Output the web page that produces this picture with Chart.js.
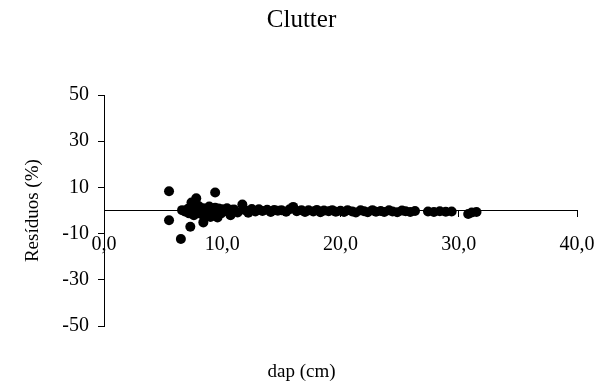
<!DOCTYPE html>
<html>
<head>
<meta charset="utf-8">
<script src="https://cdn.jsdelivr.net/npm/chart.js@4/dist/chart.umd.min.js"></script>
<style>
  html, body { margin: 0; padding: 0; background: #fff; }
  #wrap { width: 603px; height: 385px; }
</style>
</head>
<body>
<div id="wrap"><canvas id="c" width="603" height="385"></canvas></div>
<script>
// Diâmetro à altura do peito (cm) de cada árvore
const dap = [
  5.5, 5.5, 6.5, 7.3, 7.8, 7.4, 8.4, 9.4,
  6.6, 6.9, 7.1, 7.2, 7.5, 7.6, 7.7, 7.9, 8.0, 8.1, 8.2, 8.4, 8.5, 8.6, 8.8, 8.9,
  9.0, 9.1, 9.3, 9.4, 9.5, 9.6, 9.7, 9.9, 10.0, 10.2, 10.4, 10.6, 10.7, 10.8,
  11.0, 11.3, 11.7, 11.9, 12.2, 12.5, 12.8, 13.1, 13.4, 13.8, 14.1, 14.4, 14.7,
  15.0, 15.4, 15.7, 16.0, 16.3, 16.7, 17.0, 17.3, 17.7, 18.0, 18.3, 18.6, 19.0,
  19.3, 19.6, 20.0, 20.3, 20.6, 21.0, 21.3, 21.7, 22.0, 22.3, 22.7, 23.0, 23.4,
  23.7, 24.1, 24.4, 24.8, 25.2, 25.5, 25.9, 26.3,
  27.4, 27.9, 28.4, 28.9, 29.4,
  30.8, 31.1, 31.5
];

// Resíduos percentuais do modelo de Clutter
const residuos = [
  8.4, -4.2, -12.3, -7.0, 5.3, 3.5, -5.1, 7.8,
  0.2, -0.5, 0.8, -1.2, 0.4, -2.0, 1.5, -0.8, 2.0, 0.3, -1.5, 1.0, -2.5, 0.5, -1.0, 1.8,
  -2.8, 0.2, -1.8, 1.2, -0.6, -3.0, 0.9, -1.2, 0.6, -0.3, 1.0, -0.8, -2.0, 0.4,
  0.5, -0.8, 2.6, 0.3, -0.9, 0.7, -0.4, 0.6, -0.2, 0.4, -0.6, 0.3, -0.1,
  0.2, -0.5, 0.6, 1.6, -0.3, 0.2, -0.6, 0.1, -0.4, 0.3, -0.7, 0.0, -0.3,
  0.2, -0.5, -0.1, -0.6, 0.2, -0.4, -0.8, 0.1, -0.3, -0.7, 0.2, -0.5, -0.2,
  -0.6, 0.1, -0.4, -0.7, 0.0, -0.3, -0.6, -0.2,
  -0.4, -0.6, -0.3, -0.5, -0.4,
  -1.5, -0.8, -0.6
];

const xTicks = [0, 10, 20, 30, 40];
const yTicks = [-50, -30, -10, 10, 30, 50];

const points = dap.map((d, i) => ({ x: d, y: residuos[i] }));

const serif = 'Liberation Serif, Times New Roman, serif';
const tickFont = { family: serif, size: 20, weight: 'normal' };
const axisFont = { family: serif, size: 19, weight: 'normal' };

new Chart(document.getElementById('c'), {
  type: 'scatter',
  data: {
    datasets: [{
      data: points,
      backgroundColor: '#000',
      borderColor: '#000',
      borderWidth: 0,
      pointRadius: 5,
      pointHoverRadius: 5
    }]
  },
  options: {
    responsive: false,
    animation: false,
    events: [],
    layout: { padding: 0 },
    plugins: {
      legend: { display: false },
      tooltip: { enabled: false },
      title: {
        display: true,
        text: 'Clutter',
        color: '#000',
        font: { family: serif, size: 25, weight: 'normal' },
        padding: { top: 5, bottom: 60 }
      },
      subtitle: {
        display: true,
        position: 'bottom',
        text: 'dap (cm)',
        color: '#000',
        font: axisFont,
        padding: { top: 34, bottom: 2 }
      }
    },
    scales: {
      x: {
        type: 'linear',
        min: 0,
        max: 40,
        position: { y: 0 },
        afterBuildTicks: s => { s.ticks = xTicks.map(v => ({ value: v })); },
        // labels may overhang the plot edges without shrinking it
        afterFit: s => { s.paddingLeft = 0; s.paddingRight = 0; },
        grid: { drawOnChartArea: false, drawTicks: true, tickLength: 6, color: '#000', lineWidth: 1 },
        border: { display: true, color: '#000', width: 1 },
        ticks: {
          color: '#000',
          font: tickFont,
          padding: 16,
          maxRotation: 0,
          autoSkip: false,
          callback: v => v.toFixed(1).replace('.', ',')
        }
      },
      y: {
        type: 'linear',
        min: -50,
        max: 50,
        position: 'left',
        afterBuildTicks: s => { s.ticks = yTicks.map(v => ({ value: v })); },
        afterFit: s => { s.width = 104; },
        grid: { drawOnChartArea: false, drawTicks: true, tickLength: 6, color: '#000', lineWidth: 1 },
        border: { display: true, color: '#000', width: 1 },
        ticks: { color: '#000', font: tickFont, padding: 9, autoSkip: false },
        title: {
          display: true,
          text: 'Resíduos (%)',
          color: '#000',
          font: axisFont,
          padding: { top: 22, bottom: 0 }
        }
      },
      // empty margin on the right so the plot ends where the axis line ends
      margem: {
        type: 'linear',
        position: 'right',
        min: 0,
        max: 1,
        afterFit: s => { s.width = 26; },
        grid: { display: false },
        border: { display: false },
        ticks: { display: false }
      }
    }
  }
});
</script>
</body>
</html>
